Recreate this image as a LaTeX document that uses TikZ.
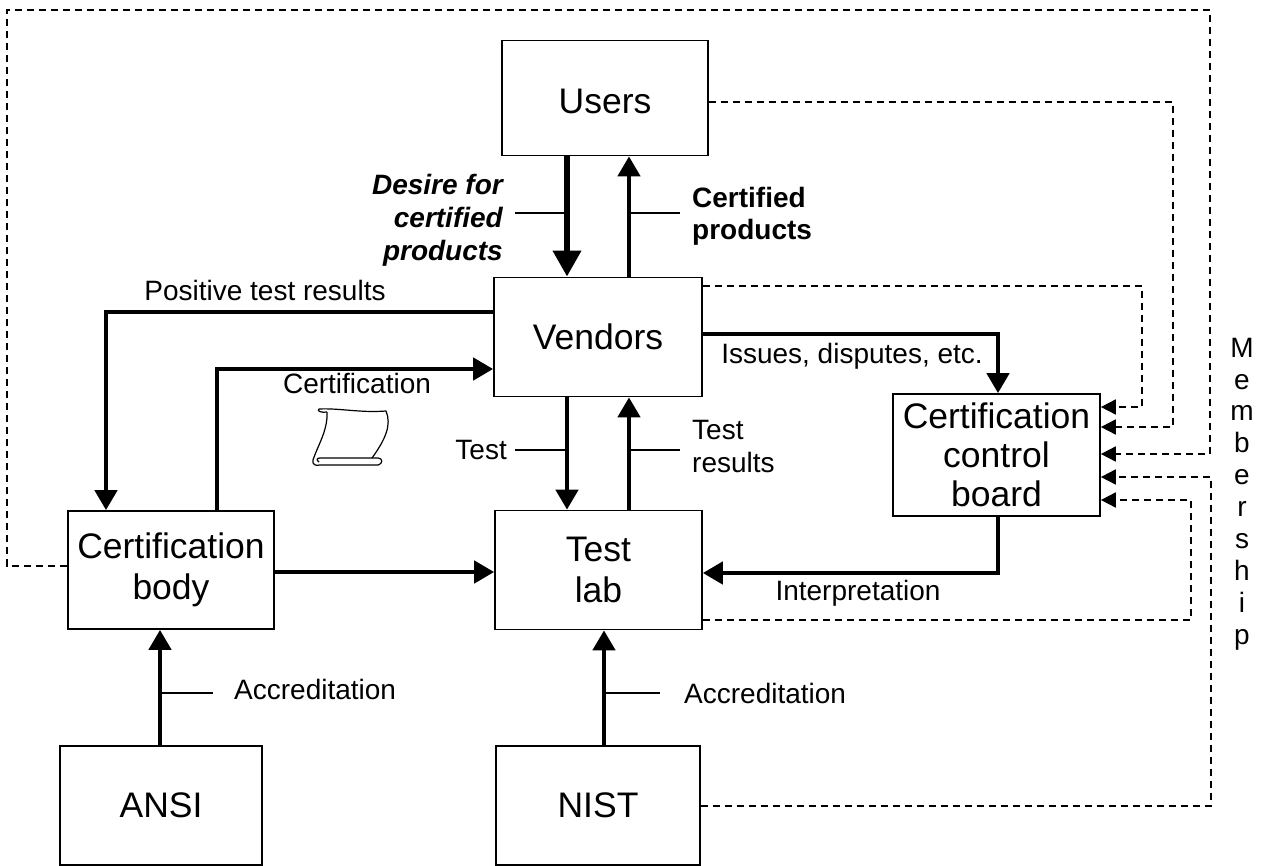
\documentclass[tikz,border=0pt]{standalone}
\usepackage{fontspec}
\setmainfont{Liberation Sans}
\usetikzlibrary{arrows.meta}
\begin{document}
\begin{tikzpicture}[x=1pt,y=-1pt]
\tikzstyle{mybox} = [draw, line width=1.7pt, inner sep=0pt, align=center, font=\fontsize{35.5}{41}\selectfont]
\tikzstyle{mylabel} = [inner sep=0pt, align=center, font=\fontsize{28}{33}\selectfont]
\tikzstyle{myflow} = [line width=4.5pt, -{Triangle[length=20pt,width=22pt]}]
\tikzstyle{mybigflow} = [line width=6.5pt, -{Triangle[length=26pt,width=27pt]}]
\tikzstyle{mydash} = [line width=1.8pt, dash pattern=on 7pt off 5pt, -{Triangle[length=15pt,width=15pt]}]
\tikzstyle{mytick} = [line width=1.4pt]
\useasboundingbox (0,0) rectangle (1264,865);
	% boxes
	\node[mybox, minimum width=206pt, minimum height=115pt] (users) at (605,98) {\rule{0pt}{31pt}Users};
	\node[mybox, minimum width=208pt, minimum height=119pt] (vendors) at (598,337) {Vendors};
	\node[mybox, minimum width=207pt, minimum height=119pt] (testlab) at (598.5,570) {Test\\lab};
	\node[mybox, minimum width=206pt, minimum height=118pt] (certbody) at (171,570) {Certification\\body};
	\node[mybox, minimum width=207pt, minimum height=122pt, font=\fontsize{35.5}{39}\selectfont] (board) at (996.5,455) {Certification\\control\\board};
	\node[mybox, minimum width=202pt, minimum height=119pt] (ansi) at (161,805.5) {ANSI};
	\node[mybox, minimum width=204pt, minimum height=119pt] (nist) at (598,805.5) {NIST};
	% columns and rows of the connectors
	\coordinate (xa) at (567,0);
	\coordinate (xb) at (629,0);
	\coordinate (xc) at (160,0);
	\coordinate (xd) at (604,0);
	\coordinate (xe) at (106,0);
	\coordinate (xf) at (217,0);
	\coordinate (xg) at (998,0);
	% solid flows
	\draw[mybigflow] (users.south -| xa) -- (vendors.north -| xa);
	\draw[myflow] (vendors.north -| xb) -- (users.south -| xb);
	\draw[myflow] (vendors.south -| xa) -- (testlab.north -| xa);
	\draw[myflow] (testlab.north -| xb) -- (vendors.south -| xb);
	\draw[myflow] (ansi.north -| xc) -- (certbody.south -| xc);
	\draw[myflow] (nist.north -| xd) -- (testlab.south -| xd);
	\draw[myflow] (certbody.east |- 0,572) -- (testlab.west |- 0,572);
	\draw[myflow] (vendors.west |- 0,312) -| (certbody.north -| xe);
	\draw[myflow] (certbody.north -| xf) |- (vendors.west |- 0,369);
	\draw[myflow] (vendors.east |- 0,334) -| (board.north -| xg);
	\draw[myflow] (board.south -| xg) |- (testlab.east |- 0,573);
	% dashed flows
	\draw[mydash] (users.east |- 0,102) -| (1173,427) -- (board.east |- 0,427);
	\draw[mydash] (vendors.east |- 0,286) -| (1142,407) -- (board.east |- 0,407);
	\draw[mydash] (certbody.west |- 0,566) -| (7,10) -| (1210,454) -- (board.east |- 0,454);
	\draw[mydash] (nist.east |- 0,806) -| (1211,477) -- (board.east |- 0,477);
	\draw[mydash] (testlab.east |- 0,620) -| (1191,500) -- (board.east |- 0,500);
	% labels
	\node[mylabel, font=\fontsize{28}{33}\selectfont\bfseries\itshape, align=right, anchor=east] (desire) at (503,220) {Desire for\\certified\\products};
	\node[mylabel, font=\fontsize{28}{32}\selectfont\bfseries, align=left, anchor=west] (certified) at (692,216) {Certified\\products};
	\node[mylabel] (positive) at (265,290) {Positive test results};
	\node[mylabel] (certification) at (357,383) {Certification};
	\node[mylabel] (issues) at (852,356) {Issues, disputes, etc.};
	\node[mylabel, anchor=east] (test) at (507,450) {Test};
	\node[mylabel, align=left, anchor=west] (results) at (692,446) {Test\\results};
	\node[mylabel] (interpretation) at (858,593) {Interpretation};
	\node[mylabel, anchor=west] (accr1) at (234,689) {Accreditation};
	\node[mylabel, anchor=west] (accr2) at (684,693) {Accreditation};
	\node[mylabel, font=\fontsize{28}{31.9}\selectfont] (membership) at (1242,494) {M\\e\\m\\b\\e\\r\\s\\h\\i\\p};
	% leaders
	\coordinate (tdesire) at (515,213);
	\coordinate (tcertified) at (680,213);
	\coordinate (ttest) at (515,450);
	\coordinate (tresults) at (680,450);
	\coordinate (taccr1) at (213,693);
	\coordinate (taccr2) at (660,693);
	\draw[mytick] (tdesire) -- (tdesire -| xa);
	\draw[mytick] (tcertified) -- (tcertified -| xb);
	\draw[mytick] (ttest) -- (ttest -| xa);
	\draw[mytick] (tresults) -- (tresults -| xb);
	\draw[mytick] (taccr1) -- (taccr1 -| xc);
	\draw[mytick] (taccr2) -- (taccr2 -| xd);
	% scroll
	\draw[line width=1.2pt, line join=round] (327,412) .. controls (322,413) and (316,411) .. (319,409) .. controls (340,408) and (360,413) .. (386,411) .. controls (392,425) and (385,440) .. (372,458);
	\draw[line width=1.2pt, line join=round] (327,412) .. controls (328,430) and (318,445) .. (313,460) .. controls (312,465) and (316,466) .. (320,465) -- (378,465) .. controls (383,464) and (383,458) .. (378,458) -- (320,458) .. controls (317,458) and (316,460) .. (319,462);
\end{tikzpicture}
\end{document}
